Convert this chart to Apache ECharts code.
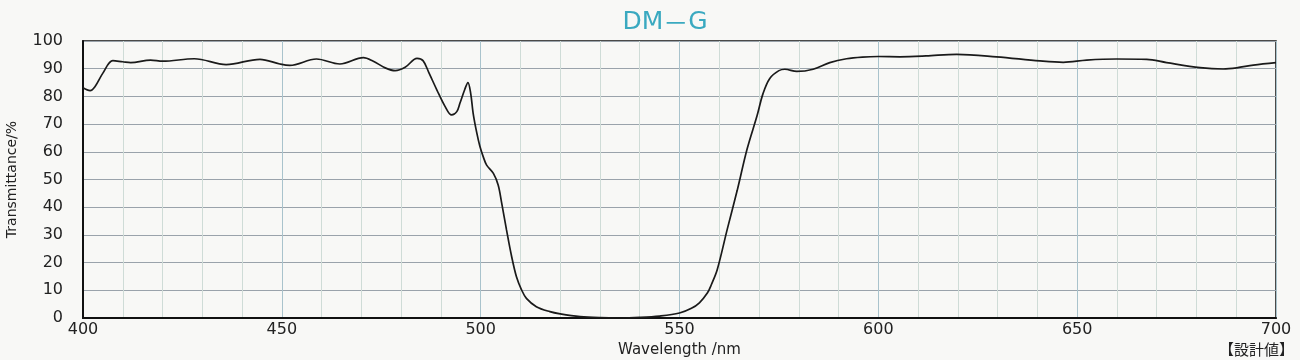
<!DOCTYPE html>
<html>
<head>
<meta charset="utf-8">
<script src="https://cdn.jsdelivr.net/npm/echarts@6/dist/echarts.min.js"></script>
<style>
html,body{margin:0;padding:0;background:#f8f8f6;}
#c{width:1300px;height:360px;}
</style>
</head>
<body>
<div id="c"></div>
<script>
const title = "DM－G";
const xTicks = [400, 450, 500, 550, 600, 650, 700];
const yTicks = [0, 10, 20, 30, 40, 50, 60, 70, 80, 90, 100];
const wavelength = [400, 401.8, 403, 405, 407.5, 410, 412, 417, 420, 428, 436, 444.5, 449.5, 452, 458.7, 464.6, 470.5, 473, 476, 478.5, 481, 484, 485.5, 487, 489, 491, 492.7, 494, 494.8, 496, 496.8, 497.5, 498.1, 499, 499.8, 500.7, 501.5, 503.2, 504.4, 505.3, 506.5, 507.8, 509, 510.3, 511.5, 514, 517.4, 520, 525, 530, 535, 540, 545, 550, 553, 555, 557, 558, 559.5, 562, 564.5, 567, 569.5, 571, 572.7, 575, 576.5, 579.5, 583.6, 587.8, 592, 596, 600, 605.4, 612, 619.7, 629.7, 640.6, 646.5, 652.4, 659.9, 667.5, 672.5, 680.9, 686.7, 690.1, 694.3, 700];
const transmittance = [83.1, 82.1, 83.5, 88.4, 92.9, 92.5, 92.2, 93.1, 92.7, 93.6, 91.5, 93.4, 91.7, 91.2, 93.5, 91.7, 94.0, 92.7, 90.3, 89.3, 90.5, 93.7, 92.9, 88.5, 82.3, 76.5, 73.3, 74.5, 77.6, 82.5, 85.0, 81.0, 74.0, 67.0, 62.0, 58.0, 55.2, 52.2, 48.0, 41.4, 31.8, 22.1, 14.9, 10.1, 7.1, 4.1, 2.3, 1.5, 0.5, 0.1, 0.0, 0.2, 0.7, 1.8, 3.5, 5.5, 9.0, 12.0, 17.5, 32.0, 46.0, 61.0, 73.0, 81.0, 86.5, 89.3, 89.8, 89.0, 89.8, 92.2, 93.6, 94.2, 94.4, 94.3, 94.6, 95.2, 94.3, 92.8, 92.3, 93.1, 93.5, 93.4, 92.2, 90.4, 89.9, 90.3, 91.3, 92.2];

const data = wavelength.map((w, i) => [w, transmittance[i]]);
const titleParts = title.split('－');
const titleRich = '{a|' + titleParts[0] + '}{b|－}{a|' + titleParts[1] + '}';
const chart = echarts.init(document.getElementById('c'));
const labelFont = {fontFamily: 'DejaVu Sans', fontSize: 16, color: '#222'};
chart.setOption({
  backgroundColor: '#f8f8f6',
  animation: false,
  title: {
    text: titleRich, left: 660, top: 5, textAlign: 'center',
    textStyle: {
      fontWeight: 'normal',
      rich: {
        a: {color: '#3aa9c0', fontSize: 25, fontWeight: 'normal', fontFamily: 'DejaVu Sans'},
        b: {color: '#3aa9c0', fontSize: 25, fontWeight: 'normal', fontFamily: 'Noto Sans CJK JP'}
      }
    }
  },
  grid: {left: 83, right: 24, top: 41, bottom: 42, containLabel: false, outerBoundsMode: 'none', show: true, borderColor: '#111', borderWidth: 1.5, backgroundColor: 'transparent'},
  xAxis: {
    type: 'value', min: xTicks[0], max: xTicks[xTicks.length - 1], interval: 50,
    name: 'Wavelength /nm', nameLocation: 'middle', nameGap: 20,
    nameTextStyle: {fontFamily: 'DejaVu Sans', fontSize: 15, color: '#222'},
    axisLine: {lineStyle: {color: '#111', width: 2}},
    axisTick: {show: false},
    axisLabel: Object.assign({margin: 4}, labelFont),
    splitLine: {show: true, lineStyle: {color: '#a9c3cc', width: 1}},
    minorTick: {show: false, splitNumber: 5},
    minorSplitLine: {show: true, lineStyle: {color: '#cfdcd7', width: 1}}
  },
  yAxis: {
    type: 'value', min: yTicks[0], max: yTicks[yTicks.length - 1], interval: 10,
    name: 'Transmittance/%', nameLocation: 'middle', nameGap: 64,
    nameTextStyle: {fontFamily: 'DejaVu Sans', fontSize: 14, color: '#222'},
    axisLine: {lineStyle: {color: '#111', width: 2}},
    axisTick: {show: false},
    axisLabel: Object.assign({margin: 20}, labelFont),
    splitLine: {show: true, lineStyle: {color: '#9aa3ab', width: 1.2}}
  },
  graphic: [{
    type: 'text', right: 6, bottom: 3,
    style: {text: '【設計値】', fill: '#222', font: '15px "Noto Sans CJK JP"'}
  }],
  series: [{
    type: 'line', data: data, smooth: 0.35, showSymbol: false,
    lineStyle: {color: '#1a1a1a', width: 1.7}
  }]
});
</script>
</body>
</html>
